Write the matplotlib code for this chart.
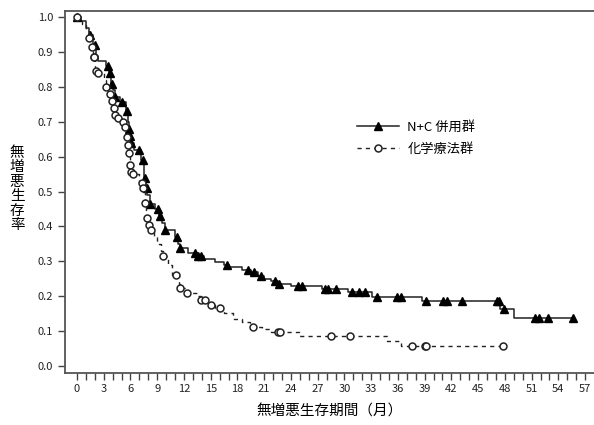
import matplotlib

matplotlib.use("Agg")

import matplotlib.pyplot as plt
import numpy as np
from matplotlib.lines import Line2D

plt.rcParams["font.family"] = ["Noto Sans CJK JP", "DejaVu Sans"]

# N+C 併用群: step knots (time in months, survival after the drop)
nc_times = [0, 0.5, 1.0, 1.4, 1.8, 2.1, 2.4, 3.3, 3.6, 3.8, 4.0, 4.3, 4.8, 5.5, 5.7,
            5.8, 5.95, 6.1, 6.4, 7.2, 7.5, 7.7, 7.9, 8.2, 8.8, 9.2, 9.5, 9.9, 11.0,
            11.3, 11.6, 12.5, 13.5, 14.2, 15.5, 16.5, 17.0, 18.5, 19.5, 20.3, 21.0,
            21.8, 22.5, 24.0, 27.5, 30.4, 33.1, 38.7, 47.5, 49.0, 55.7]
nc_surv = [1.0, 0.99, 0.97, 0.95, 0.92, 0.89, 0.875, 0.86, 0.84, 0.81, 0.79, 0.77,
           0.757, 0.73, 0.70, 0.68, 0.66, 0.64, 0.62, 0.59, 0.54, 0.51, 0.49, 0.465,
           0.45, 0.43, 0.41, 0.39, 0.37, 0.35, 0.337, 0.325, 0.315, 0.305, 0.298, 0.29,
           0.282, 0.275, 0.268, 0.258, 0.25, 0.243, 0.236, 0.228, 0.22, 0.212, 0.196,
           0.186, 0.163, 0.136, 0.136]
nc_censor = [0, 1.5, 2.0, 3.5, 3.7, 3.9, 4.3, 5.0, 5.6, 5.8, 5.95, 6.1, 7.0, 7.4, 7.6,
             7.8, 8.2, 9.1, 9.3, 9.9, 11.2, 11.6, 13.2, 13.6, 13.9, 16.8, 19.2, 19.8,
             20.6, 22.2, 22.7, 24.8, 25.2, 27.8, 28.2, 29.0, 30.8, 31.6, 32.3, 33.6,
             35.9, 36.3, 39.1, 41.1, 41.5, 43.2, 47.1, 47.3, 47.9, 51.4, 51.8, 52.8, 55.7]

# 化学療法群
chemo_times = [0, 0.6, 1.0, 1.3, 1.6, 1.8, 2.0, 2.3, 3.0, 3.3, 3.6, 3.9, 4.1, 4.3,
               4.6, 5.1, 5.4, 5.6, 5.7, 5.8, 5.9, 6.1, 6.3, 7.0, 7.4, 7.6, 7.75, 8.0,
               8.2, 8.6, 9.0, 9.4, 9.6, 10.2, 10.7, 11.4, 11.5, 12.2, 13.5, 13.9, 14.8,
               15.5, 16.5, 17.5, 18.5, 19.4, 20.8, 21.8, 24.9, 34.8, 36.3, 47.8]
chemo_surv = [1.0, 0.98, 0.96, 0.94, 0.915, 0.887, 0.846, 0.84, 0.82, 0.80, 0.78,
              0.76, 0.74, 0.72, 0.71, 0.70, 0.686, 0.657, 0.633, 0.61, 0.576, 0.557,
              0.55, 0.525, 0.509, 0.468, 0.423, 0.404, 0.389, 0.37, 0.35, 0.33, 0.315,
              0.29, 0.26, 0.235, 0.222, 0.21, 0.2, 0.19, 0.175, 0.165, 0.15, 0.135,
              0.125, 0.112, 0.105, 0.098, 0.086, 0.072, 0.057, 0.057]
chemo_censor = [0, 1.3, 1.65, 1.85, 1.95, 2.1, 2.4, 3.3, 3.7, 3.9, 4.1, 4.3, 4.6, 5.2,
                5.4, 5.6, 5.75, 5.85, 5.95, 6.1, 6.3, 7.3, 7.45, 7.65, 7.8, 8.05, 8.25,
                9.65, 11.1, 11.6, 12.3, 13.95, 14.4, 15.0, 16.0, 19.7, 22.5, 22.8, 28.5,
                30.6, 37.6, 39.0, 39.2, 47.8]

x_ticks = np.arange(0, 58, 3)
y_ticks = np.round(np.arange(0, 1.01, 0.1), 1)


def surv_at(times, surv, t):
    idx = np.searchsorted(times, t, side="right") - 1
    return np.asarray(surv)[idx]


line_color = "#222222"
fig = plt.figure(figsize=(5.94, 4.25), dpi=100)
ax = fig.add_axes([0.1094, 0.123, 0.8906, 0.851])

ax.step(nc_times, nc_surv, where="post", color=line_color, linewidth=1.1)
ax.plot(nc_censor, surv_at(nc_times, nc_surv, nc_censor), linestyle="none",
        marker="^", markersize=5.5, color="black")

ax.step(chemo_times, chemo_surv, where="post", color=line_color, linewidth=1.0,
        linestyle=(0, (3, 3)))
ax.plot(chemo_censor, surv_at(chemo_times, chemo_surv, chemo_censor), linestyle="none",
        marker="o", markersize=5, markerfacecolor="white", markeredgecolor=line_color,
        markeredgewidth=1.1)

ax.set_xlim(-1.35, 58.0)
ax.set_ylim(-0.02, 1.018)
ax.set_xticks(x_ticks)
ax.set_xticks(np.arange(0, 58, 1), minor=True)
ax.set_yticks(y_ticks)
ax.set_yticklabels([f"{v:.1f}" for v in y_ticks])
ax.tick_params(axis="both", which="both", direction="out", length=5, width=1,
               color="#444444", labelsize=8, labelcolor="#222222")
ax.tick_params(axis="x", pad=3)

for side in ["left", "bottom", "top"]:
    ax.spines[side].set_color("#555555")
    ax.spines[side].set_linewidth(1.3)
ax.spines["right"].set_visible(False)

ax.set_xlabel("無増悪生存期間（月）", fontsize=10.5, labelpad=8)
fig.text(0.029, 0.555, "\n".join("無増悪生存率"), fontsize=10.5, ha="center",
         va="center", linespacing=1.05)

handles = [
    Line2D([], [], color=line_color, linewidth=1.1, marker="^", markersize=5.5,
           markerfacecolor="black", markeredgecolor="black"),
    Line2D([], [], color=line_color, linewidth=1.0, linestyle=(0, (3, 3)), marker="o",
           markersize=5, markerfacecolor="white", markeredgecolor=line_color,
           markeredgewidth=1.1),
]
ax.legend(handles, ["N+C 併用群", "化学療法群"], loc="upper left",
          bbox_to_anchor=(0.53, 0.73), frameon=False, fontsize=9.5,
          handlelength=3.2, labelspacing=0.7, handletextpad=0.6)

fig.savefig("out.png", dpi=100)
